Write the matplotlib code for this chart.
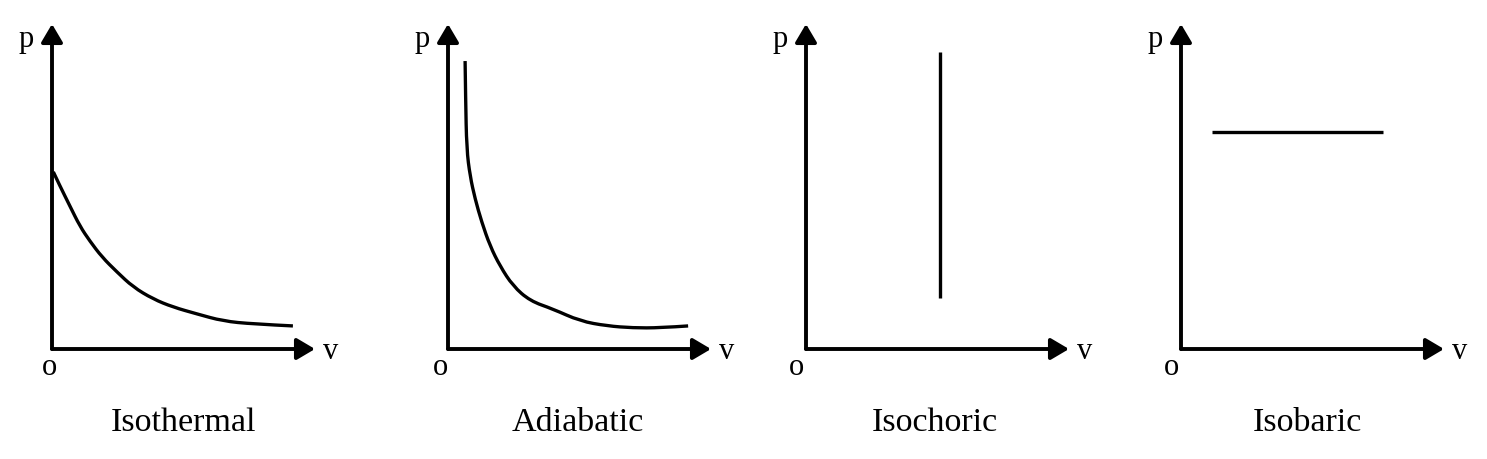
import matplotlib
matplotlib.use('Agg')
import matplotlib.pyplot as plt
from matplotlib.path import Path
from matplotlib.patches import PathPatch

plt.rcParams['font.family'] = ['Liberation Serif', 'DejaVu Serif']

# p-v diagrams, units: both axes run 0..10 along the drawn arrow
titles = ['Isothermal', 'Adiabatic', 'Isochoric', 'Isobaric']

iso_t_v = [0.05, 0.30, 0.68, 1.06, 1.44, 1.90, 2.47, 3.08, 3.84, 4.60, 5.51, 6.50, 7.64, 9.16]
iso_t_p = [5.45, 5.02, 4.40, 3.78, 3.32, 2.83, 2.37, 1.91, 1.54, 1.29, 1.08, 0.86, 0.77, 0.71]

adia_v = [0.65, 0.67, 0.71, 0.84, 1.03, 1.28, 1.60, 1.98, 2.47, 3.12, 3.99, 5.02, 6.05, 7.03, 8.06, 9.13]
adia_p = [8.86, 7.69, 6.15, 5.32, 4.62, 3.91, 3.17, 2.55, 1.94, 1.48, 1.23, 0.86, 0.71, 0.65, 0.65, 0.71]

isochoric_v = [5.10, 5.10]
isochoric_p = [1.57, 9.14]

isobaric_v = [1.18, 7.68]
isobaric_p = [6.68, 6.68]

curves = [(iso_t_v, iso_t_p), (adia_v, adia_p),
          (isochoric_v, isochoric_p), (isobaric_v, isobaric_p)]

W, H = 1487, 460
origins = [52, 448, 806, 1181]          # pixel x of each origin
o_dx = [-0.01, -0.03, -0.035, -0.035]
title_x = [0.50, 0.495, 0.49, 0.48]


def smooth_path(xs, ys):
    """quadratic bezier through the midpoints, read points act as controls"""
    pts = list(zip(xs, ys))
    verts = [pts[0]]
    codes = [Path.MOVETO]
    for i in range(1, len(pts) - 1):
        mid = ((pts[i][0] + pts[i + 1][0]) / 2, (pts[i][1] + pts[i + 1][1]) / 2)
        if i == len(pts) - 2:
            mid = pts[-1]
        verts += [pts[i], mid]
        codes += [Path.CURVE3, Path.CURVE3]
    return Path(verts, codes)


fig = plt.figure(figsize=(W / 100, H / 100), dpi=100)

for k in range(4):
    ax = fig.add_axes([origins[k] / W, 110 / H, 263 / W, 325 / H])
    ax.set_xlim(0, 10)
    ax.set_ylim(0, 10)
    ax.axis('off')

    arrow = dict(arrowstyle='-|>,head_length=1.1,head_width=0.65', lw=2.8,
                 color='black', mutation_scale=10, shrinkA=0, shrinkB=0)
    ax.annotate('', xy=(1, 0), xytext=(0, 0), xycoords='axes fraction',
                arrowprops=arrow, annotation_clip=False)
    ax.annotate('', xy=(0, 1), xytext=(0, 0), xycoords='axes fraction',
                arrowprops=arrow, annotation_clip=False)

    v, p = curves[k]
    if len(v) > 2:
        ax.add_patch(PathPatch(smooth_path(v, p), fill=False, lw=2.4,
                               edgecolor='black', clip_on=False))
    else:
        ax.plot(v, p, color='black', lw=2.4, solid_capstyle='butt', clip_on=False)

    ax.text(-0.10, 0.955, 'p', transform=ax.transAxes, fontsize=22,
            ha='center', va='center')
    ax.text(o_dx[k], -0.055, 'o', transform=ax.transAxes, fontsize=22,
            ha='center', va='center')
    ax.text(1.06, -0.005, 'v', transform=ax.transAxes, fontsize=22,
            ha='center', va='center')
    ax.text(title_x[k], -0.225, titles[k], transform=ax.transAxes,
            fontsize=24.5, ha='center', va='center')

fig.savefig('out.png', dpi=100)
